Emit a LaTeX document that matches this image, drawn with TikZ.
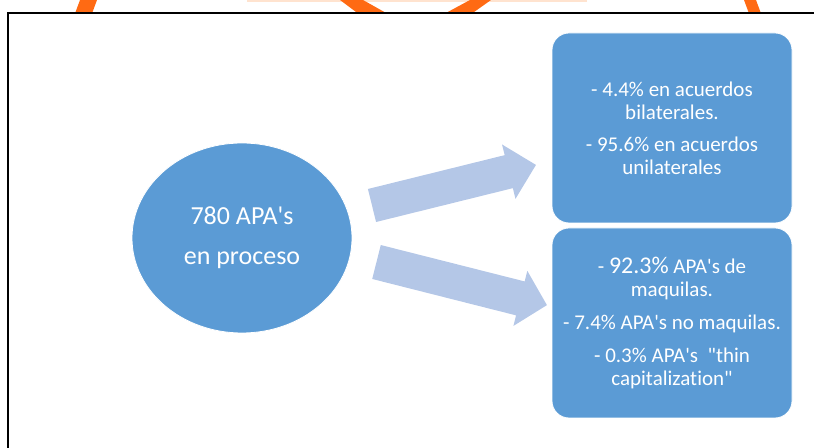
\documentclass[tikz,border=0pt]{standalone}
\usepackage{fontspec}
\setmainfont{Carlito}[Ligatures={TeXOff,NoCommon}]
\usetikzlibrary{shapes.geometric}
\definecolor{boxblue}{HTML}{5B9BD5}
\definecolor{arrowblue}{HTML}{B4C7E7}
\definecolor{logoorange}{HTML}{FF6A13}
\definecolor{faintorange}{HTML}{FFE3CF}
\begin{document}
\begin{tikzpicture}[x=0.75pt,y=-0.75pt,
  infobox/.style={rectangle, rounded corners=12.75pt, fill=boxblue, draw=white, line width=0.6pt,
    minimum width=180pt, minimum height=142.5pt, inner sep=0pt, text=white, align=center,
    font=\fontsize{15.75}{17.25}\selectfont},
  hub/.style={ellipse, fill=boxblue, draw=white, line width=0.6pt, minimum width=165pt,
    minimum height=142.5pt, inner sep=0pt, text=white, align=center,
    font=\fontsize{19.5}{30}\selectfont},
  blockarrow/.style={fill=arrowblue},
  logo/.style={fill=logoorange}]
\useasboundingbox (0,0) rectangle (814,448);
% partial logo above the frame
\fill[faintorange] (247,0) rectangle (587,2.5);
\fill[logo] (80,0) -- (97,0) -- (92,13.5) -- (75,13.5) -- cycle;
\fill[logo] (340,0) -- (363,0) -- (387,13.5) -- (358,13.5) -- cycle;
\fill[logo] (470,0) -- (491,0) -- (472,13.5) -- (445,13.5) -- cycle;
\fill[logo] (744,0) -- (756,0) -- (761,13.5) -- (749,13.5) -- cycle;
% frame
\draw[line width=1.5pt] (814,13.5) -- (8,13.5) -- (8,448);
% nodes
\node[hub] (hub) at (242,238) {780 APA's\\en proceso};
\node[infobox] (top) at (672,128) {- 4.4\% en acuerdos\\bilaterales.\\[6.75pt]- 95.6\% en acuerdos\\unilaterales};
\node[infobox] (bottom) at (672,323) {- {\fontsize{18}{17.25}\selectfont 92.3\%} APA's de\\maquilas.\\[7.5pt]- 7.4\% APA's no maquilas.\\[7.5pt]- 0.3\% APA's\ \ "thin\\capitalization"};
% block arrows
\coordinate (upTail) at (372,205.5);
\coordinate (downTail) at (376.5,262);
\fill[blockarrow, shift={(upTail)}, rotate=13.9]
  (0,-17) -- (140.9,-17) -- (140.9,-28) -- (168.9,0) -- (140.9,28) -- (140.9,17) -- (0,17) -- cycle;
\fill[blockarrow, shift={(downTail)}, rotate=-14.2]
  (0,-17.5) -- (148.4,-17.5) -- (148.4,-28.4) -- (175.8,0) -- (148.4,28.4) -- (148.4,17.5) -- (0,17.5) -- cycle;
\end{tikzpicture}
\end{document}
